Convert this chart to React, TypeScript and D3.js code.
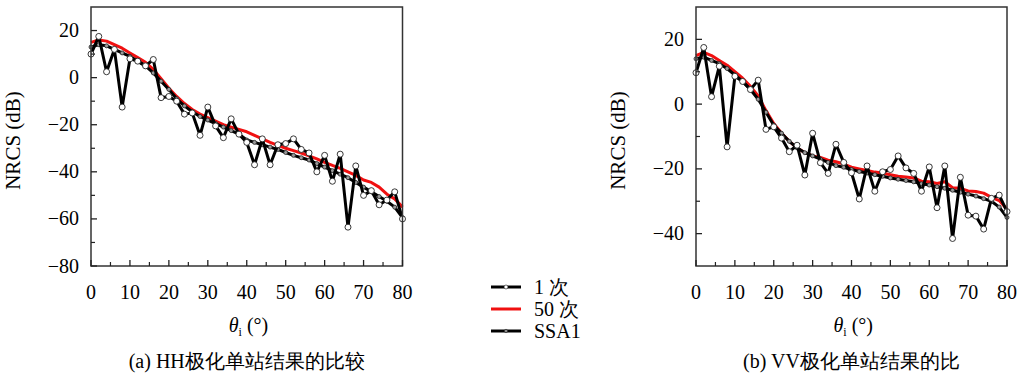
import React from 'react';
import * as d3 from 'd3';

// incidence angles (deg)
const theta = [0, 2, 4, 6, 8, 10, 12, 14, 16, 18, 20, 22, 24, 26, 28, 30, 32, 34, 36, 38, 40,
  42, 44, 46, 48, 50, 52, 54, 56, 58, 60, 62, 64, 66, 68, 70, 72, 74, 76, 78, 80];

// HH polarisation
const hhOne = [10, 17.5, 2.5, 12, -12.5, 8, 7, 5, 7.7, -8.5, -8, -10, -15.5, -15, -24.5, -12.5, -20.5, -25.5, -17.5, -24,
  -27.5, -37, -26, -37, -28.5, -28, -26, -30.5, -32, -40, -33, -44, -32.5, -63.5, -37.5, -50, -48, -54, -52, -48.5, -60];
const hhFifty = [15, 16, 15.5, 14, 12.5, 10.5, 8.5, 6.5, 3.5, -0.5, -4.5, -8, -11, -13.5, -15.5, -17, -18.5, -20, -21, -22,
  -23, -24.5, -26, -27.5, -28.8, -30, -31, -32, -33.2, -34.5, -36, -37.3, -38.5, -40, -41.5, -43.5, -44.5, -46.5, -49.5, -51.5, -55];
const hhSsa = [13, 14, 13.5, 12, 10.5, 9, 7, 5, 2, -1.5, -5, -9, -12, -14.5, -16.5, -18, -19.5, -21, -22.5, -24,
  -26.5, -27.5, -28.5, -29.5, -30.5, -31.8, -33, -34, -35, -36.5, -38, -39.5, -41, -42.5, -44.5, -46.5, -48.5, -50.5, -52.5, -55, -59.5];

// VV polarisation
const vvOne = [9.7, 17.5, 2.3, 11.7, -13.2, 8.6, 7, 4.5, 7.4, -7.8, -7, -10.5, -14.7, -12.7, -21.9, -9, -18.1, -21.4, -12.4, -18,
  -21.2, -29.3, -19.1, -26.9, -20.9, -20.2, -16, -19.7, -21.4, -26.9, -19.4, -32, -19.1, -41.5, -22.6, -34.3, -34.6, -38.6, -29.1, -28.1, -33.2];
const vvFifty = [15, 16, 15, 13.5, 12, 10, 8, 5.5, 2.5, -2, -6, -9, -11.5, -13.5, -15, -16, -16.5, -17.3, -17.8, -18.5,
  -19.5, -20, -20.5, -21, -21.3, -21.8, -22.3, -22.5, -22.8, -23.8, -24, -24.5, -24, -25.8, -26, -26.8, -27, -27.5, -28.8, -29.8, -32.5];
const vvSsa = [14, 14.5, 13.5, 12.5, 11, 9, 7, 4.5, 1.5, -2.5, -6.5, -9, -11.5, -13.5, -15, -16, -17, -18, -19, -19.5,
  -20.2, -20.8, -21.3, -21.8, -22.3, -22.8, -23.2, -23.6, -24, -24.6, -25, -25.5, -26, -26.6, -27.2, -27.8, -28.4, -29.2, -30, -31.8, -35];

const xTicks = [0, 10, 20, 30, 40, 50, 60, 70, 80];
const legendLabels = ['1 次', '50 次', 'SSA1'];
const captions = ['(a) HH极化单站结果的比较', '(b) VV极化单站结果的比'];

const FONT = "'Liberation Serif', 'DejaVu Serif', serif";

type PanelProps = {
  left: number;
  right: number;
  yDomain: [number, number];
  yMajor: number[];
  yMinor: number[];
  one: number[];
  fifty: number[];
  ssa: number[];
  caption: string;
};

const Panel = ({ left, right, yDomain, yMajor, yMinor, one, fifty, ssa, caption }: PanelProps) => {
  const top = 7;
  const bottom = 266;
  const x = d3.scaleLinear().domain([0, 80]).range([left, right]);
  const y = d3.scaleLinear().domain(yDomain).range([bottom, top]);

  const line = (vals: number[]) =>
    d3.line<number>().x((_, i) => x(theta[i])).y(v => y(v))(vals) || '';

  const xMinor = d3.range(5, 80, 10);
  const midX = (left + right) / 2;

  return (
    <g>
      {/* series */}
      <path d={line(fifty)} fill="none" stroke="#f01010" strokeWidth={3} strokeLinejoin="round" />
      <path d={line(ssa)} fill="none" stroke="#000" strokeWidth={3} strokeLinejoin="round" />
      {ssa.map((v, i) => (
        <circle key={'s' + i} cx={x(theta[i])} cy={y(v)} r={2} fill="#9a9a9a" stroke="#222" strokeWidth={0.8} />
      ))}
      <path d={line(one)} fill="none" stroke="#000" strokeWidth={3} strokeLinejoin="round" />
      {one.map((v, i) => (
        <circle key={'o' + i} cx={x(theta[i])} cy={y(v)} r={3} fill="#fff" stroke="#222" strokeWidth={0.9} />
      ))}

      {/* frame */}
      <rect x={left} y={top} width={right - left} height={bottom - top} fill="none" stroke="#333" strokeWidth={1.5} />

      {/* y ticks */}
      {yMajor.map(t => (
        <g key={'ym' + t}>
          <line x1={left} x2={left + 6} y1={y(t)} y2={y(t)} stroke="#222" strokeWidth={1.3} />
          <text x={left - 12} y={y(t) + 6.5} textAnchor="end" fontSize={20} style={{ fontFamily: FONT }}>
            {t < 0 ? '\u2212' + Math.abs(t) : String(t)}
          </text>
        </g>
      ))}
      {yMinor.map(t => (
        <line key={'yn' + t} x1={left} x2={left + 4} y1={y(t)} y2={y(t)} stroke="#222" strokeWidth={1.2} />
      ))}

      {/* x ticks */}
      {xTicks.map(t => (
        <g key={'xm' + t}>
          <line x1={x(t)} x2={x(t)} y1={bottom} y2={bottom - 6} stroke="#222" strokeWidth={1.3} />
          <text x={x(t)} y={299} textAnchor="middle" fontSize={20} style={{ fontFamily: FONT }}>{t}</text>
        </g>
      ))}
      {xMinor.map(t => (
        <line key={'xn' + t} x1={x(t)} x2={x(t)} y1={bottom} y2={bottom - 4} stroke="#222" strokeWidth={1.2} />
      ))}

      {/* axis labels */}
      <text x={midX - 18} y={332} fontSize={20} style={{ fontFamily: FONT }}>
        <tspan fontStyle="italic">θ</tspan>
        <tspan fontSize={12} dy={4}>i</tspan>
        <tspan dy={-4} dx={5}>(°)</tspan>
      </text>
      <text transform={`translate(${left - 71},${(top + bottom) / 2 + 4}) rotate(-90)`} textAnchor="middle"
        fontSize={21} style={{ fontFamily: FONT }}>NRCS (dB)</text>

      <text x={midX} y={368} textAnchor="middle" fontSize={20} style={{ fontFamily: FONT }}>{caption}</text>
    </g>
  );
};

const Legend = () => {
  const colors = ['#000', '#f01010', '#000'];
  const rows = [287, 309, 331];
  return (
    <g>
      {legendLabels.map((lab, i) => (
        <g key={lab}>
          <line x1={491} x2={521} y1={rows[i]} y2={rows[i]} stroke={colors[i]} strokeWidth={3} />
          {i === 0 && <circle cx={506} cy={rows[i]} r={2} fill="#fff" stroke="#222" strokeWidth={0.6} />}
          {i === 2 && <circle cx={506} cy={rows[i]} r={1.7} fill="#888" stroke="#222" strokeWidth={0.6} />}
          <text x={534} y={rows[i] + 6.5} fontSize={20} style={{ fontFamily: FONT }}>{lab}</text>
        </g>
      ))}
    </g>
  );
};

const App = () => (
  <svg width={1019} height={376} style={{ position: 'absolute', left: 0, top: 0, background: '#fff' }}>
    <Panel left={91} right={402.5} yDomain={[-80, 30]}
      yMajor={[-80, -60, -40, -20, 0, 20]} yMinor={[-70, -50, -30, -10, 10]}
      one={hhOne} fifty={hhFifty} ssa={hhSsa} caption={captions[0]} />
    <Panel left={696} right={1007} yDomain={[-50, 30]}
      yMajor={[-40, -20, 0, 20]} yMinor={[-30, -10, 10]}
      one={vvOne} fifty={vvFifty} ssa={vvSsa} caption={captions[1]} />
    <Legend />
  </svg>
);

export default App;
